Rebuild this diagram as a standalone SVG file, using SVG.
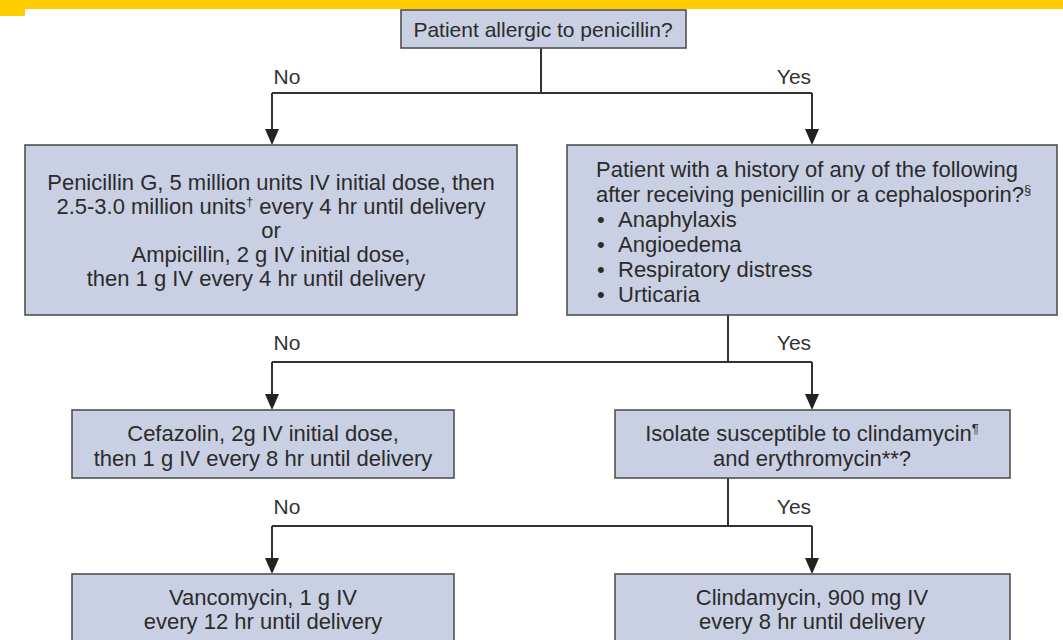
<svg xmlns="http://www.w3.org/2000/svg" width="1063" height="640" viewBox="0 0 1063 640">
  <style>
    .box { fill: #c9d0e3; stroke: #505050; stroke-width: 1.6; }
    .t { font-family: "Liberation Sans", Arial, sans-serif; font-size: 22px; fill: #2b2b2b; }
    .c { text-anchor: middle; }
    .lbl { font-family: "Liberation Sans", Arial, sans-serif; font-size: 21px; fill: #333; text-anchor: middle; }
    .sup { font-size: 13px; }
    .wire { fill: none; stroke: #333; stroke-width: 2; }
  </style>
  <defs>
    <marker id="down" markerUnits="userSpaceOnUse" markerWidth="14" markerHeight="16" refX="7" refY="0" orient="0" viewBox="0 0 14 16">
      <path d="M0,0 L14,0 L7,16 Z" fill="#222"/>
    </marker>
  </defs>

  <rect width="1063" height="640" fill="#ffffff"/>

  <!-- header band -->
  <rect x="0" y="0" width="1063" height="9" fill="#ffcc00"/>
  <rect x="0" y="0" width="25" height="16" fill="#ffcc00"/>

  <!-- connectors -->
  <g id="connectors">
    <path class="wire" d="M541,48 V93 M272,93 H812"/>
    <path class="wire" d="M272,93 V129" marker-end="url(#down)"/>
    <path class="wire" d="M812,93 V129" marker-end="url(#down)"/>

    <path class="wire" d="M728,315 V362 M272,362 H812"/>
    <path class="wire" d="M272,362 V394" marker-end="url(#down)"/>
    <path class="wire" d="M812,362 V394" marker-end="url(#down)"/>

    <path class="wire" d="M728,478 V526 M272,526 H812"/>
    <path class="wire" d="M272,526 V558" marker-end="url(#down)"/>
    <path class="wire" d="M812,526 V558" marker-end="url(#down)"/>

    <text class="lbl" x="287" y="84">No</text>
    <text class="lbl" x="794" y="84">Yes</text>
    <text class="lbl" x="287" y="350">No</text>
    <text class="lbl" x="794" y="350">Yes</text>
    <text class="lbl" x="287" y="514">No</text>
    <text class="lbl" x="794" y="514">Yes</text>
  </g>

  <!-- nodes -->
  <g id="allergic">
    <rect class="box" x="401" y="10" width="285" height="38"/>
    <text class="t c" x="543" y="37" style="font-size:21px">Patient allergic to penicillin?</text>
  </g>

  <g id="penicillin-regimen">
    <rect class="box" x="25" y="145" width="492" height="170"/>
    <text class="t c" x="271" y="190">Penicillin G, 5 million units IV initial dose, then</text>
    <text class="t c" x="271" y="214">2.5-3.0 million units<tspan class="sup" dy="-8">†</tspan><tspan dy="8"> every 4 hr until delivery</tspan></text>
    <text class="t c" x="271" y="238">or</text>
    <text class="t c" x="271" y="262">Ampicillin, 2 g IV initial dose,</text>
    <text class="t c" x="256" y="286">then 1 g IV every 4 hr until delivery</text>
  </g>

  <g id="history">
    <rect class="box" x="567" y="145" width="490" height="170"/>
    <text class="t" x="596" y="177">Patient with a history of any of the following</text>
    <text class="t" x="596" y="202">after receiving penicillin or a cephalosporin?<tspan class="sup" dy="-8">§</tspan></text>
    <text class="t" x="597" y="227">•</text>
    <text class="t" x="618" y="227">Anaphylaxis</text>
    <text class="t" x="597" y="252">•</text>
    <text class="t" x="618" y="252">Angioedema</text>
    <text class="t" x="597" y="277">•</text>
    <text class="t" x="618" y="277">Respiratory distress</text>
    <text class="t" x="597" y="302">•</text>
    <text class="t" x="618" y="302">Urticaria</text>
  </g>

  <g id="cefazolin">
    <rect class="box" x="72" y="410" width="382" height="68"/>
    <text class="t c" x="263" y="441">Cefazolin, 2g IV initial dose,</text>
    <text class="t c" x="263" y="466">then 1 g IV every 8 hr until delivery</text>
  </g>

  <g id="susceptibility">
    <rect class="box" x="615" y="410" width="395" height="68"/>
    <text class="t c" x="812" y="441">Isolate susceptible to clindamycin<tspan class="sup" dy="-8">¶</tspan></text>
    <text class="t c" x="812" y="466">and erythromycin**?</text>
  </g>

  <g id="vancomycin">
    <rect class="box" x="72" y="574" width="382" height="80"/>
    <text class="t c" x="263" y="605">Vancomycin, 1 g IV</text>
    <text class="t c" x="263" y="629">every 12 hr until delivery</text>
  </g>

  <g id="clindamycin">
    <rect class="box" x="615" y="574" width="395" height="80"/>
    <text class="t c" x="812" y="605">Clindamycin, 900 mg IV</text>
    <text class="t c" x="812" y="629">every 8 hr until delivery</text>
  </g>
</svg>
